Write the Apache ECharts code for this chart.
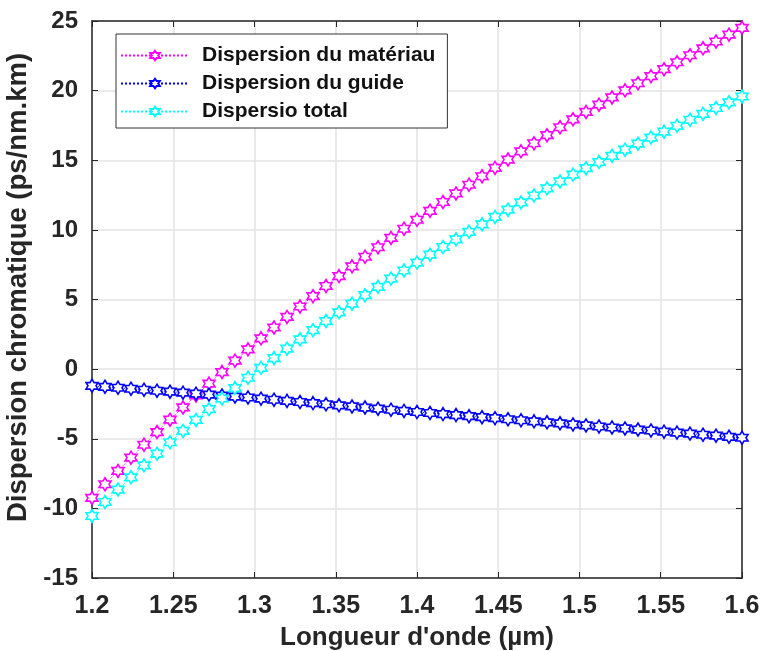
<!DOCTYPE html>
<html>
<head>
<meta charset="utf-8">
<script src="https://cdn.jsdelivr.net/npm/echarts@6/dist/echarts.min.js"></script>
<style>
  html, body { margin: 0; padding: 0; background: #fff; }
  #chart { width: 761px; height: 651px; }
</style>
</head>
<body>
<div id="chart"></div>
<script>
// wavelength samples (µm)
const wavelength = [
  1.200, 1.208, 1.216, 1.224, 1.232, 1.240, 1.248, 1.256, 1.264, 1.272,
  1.280, 1.288, 1.296, 1.304, 1.312, 1.320, 1.328, 1.336, 1.344, 1.352,
  1.360, 1.368, 1.376, 1.384, 1.392, 1.400, 1.408, 1.416, 1.424, 1.432,
  1.440, 1.448, 1.456, 1.464, 1.472, 1.480, 1.488, 1.496, 1.504, 1.512,
  1.520, 1.528, 1.536, 1.544, 1.552, 1.560, 1.568, 1.576, 1.584, 1.592,
  1.600
]

// material dispersion (ps/nm.km)
const dispMateriau = [
  -9.25, -8.27, -7.31, -6.36, -5.43, -4.52, -3.63, -2.75, -1.89, -1.04,
  -0.21, 0.61, 1.42, 2.21, 2.99, 3.75, 4.50, 5.24, 5.97, 6.68,
  7.38, 8.07, 8.75, 9.42, 10.08, 10.73, 11.37, 12.00, 12.62, 13.24,
  13.85, 14.45, 15.05, 15.64, 16.22, 16.80, 17.37, 17.94, 18.47, 18.99,
  19.51, 20.02, 20.53, 21.04, 21.54, 22.04, 22.54, 23.04, 23.53, 24.02,
  24.51
]

// waveguide dispersion
const dispGuide = [
  -1.20, -1.27, -1.34, -1.41, -1.48, -1.55, -1.62, -1.69, -1.76, -1.83,
  -1.90, -1.97, -2.04, -2.12, -2.20, -2.28, -2.36, -2.44, -2.52, -2.60,
  -2.68, -2.76, -2.84, -2.92, -3.00, -3.08, -3.15, -3.23, -3.30, -3.38,
  -3.45, -3.52, -3.60, -3.67, -3.75, -3.82, -3.89, -3.97, -4.04, -4.12,
  -4.19, -4.26, -4.34, -4.41, -4.49, -4.56, -4.63, -4.71, -4.78, -4.86,
  -4.93
]

// total dispersion
const dispTotal = [
  -10.55, -9.54, -8.65, -7.77, -6.91, -6.07, -5.25, -4.44, -3.65, -2.87,
  -2.11, -1.36, -0.62, 0.09, 0.79, 1.47, 2.14, 2.80, 3.45, 4.08,
  4.70, 5.31, 5.91, 6.50, 7.08, 7.65, 8.22, 8.77, 9.32, 9.86,
  10.40, 10.93, 11.45, 11.97, 12.47, 12.98, 13.48, 13.97, 14.43, 14.87,
  15.32, 15.76, 16.19, 16.63, 17.05, 17.48, 17.91, 18.33, 18.75, 19.16,
  19.58
]

const seriesNames = ['Dispersion du matériau', 'Dispersion du guide', 'Dispersio total']
const seriesColors = ['#ff00ff', '#0000ff', '#00ffff']

// six-pointed star outline (matlab 'h' marker)
const hexagram = 'path://M50 0 L64.43 25 L93.3 25 L78.87 50 L93.3 75 L64.43 75 L50 100 L35.57 75 L6.7 75 L21.13 50 L6.7 25 L35.57 25 Z'

const font = 'Arial, "Liberation Sans", sans-serif'
const narrowFont = '"Liberation Sans Narrow", "Arial Narrow", Arial, sans-serif'

function makeSeries(name, values, color) {
  return {
    name: name,
    type: 'line',
    data: wavelength.map((x, i) => [x, values[i]]),
    symbol: hexagram,
    symbolSize: [12, 13],
    showAllSymbol: true,
    lineStyle: { color: color, width: 1, type: 'dotted' },
    itemStyle: { color: '#ffffff', borderColor: color, borderWidth: 1.6 },
    emphasis: { disabled: true },
    animation: false
  }
}

const boxAxis = {
  axisLine: { show: true, onZero: false, lineStyle: { color: '#262626', width: 1.5 } },
  axisTick: { show: true, inside: true, length: 6, lineStyle: { color: '#262626' } },
  axisLabel: { show: false },
  splitLine: { show: false }
}

const chart = echarts.init(document.getElementById('chart'))

chart.setOption({
  backgroundColor: '#ffffff',
  animation: false,
  grid: { left: 92, right: 19, top: 21, bottom: 73, containLabel: false, outerBoundsMode: 'none' },
  legend: {
    orient: 'vertical',
    left: 116,
    top: 34,
    padding: [11, 12, 6, 4],
    itemWidth: 68,
    itemHeight: 12,
    itemGap: 7,
    backgroundColor: '#ffffff',
    borderColor: '#333333',
    borderWidth: 1,
    textStyle: { fontFamily: font, fontSize: 21, color: '#111', fontWeight: 'bold', padding: [0, 0, 0, 8] },
    data: seriesNames
  },
  xAxis: [
    {
      type: 'value',
      min: 1.2,
      max: 1.6,
      interval: 0.05,
      name: "Longueur d'onde (µm)",
      nameLocation: 'middle',
      nameGap: 47,
      nameTextStyle: { fontFamily: font, fontSize: 26, fontWeight: 'bold', color: '#262626' },
      axisLine: { show: true, onZero: false, lineStyle: { color: '#262626', width: 1.5 } },
      axisTick: { show: true, inside: true, length: 6, lineStyle: { color: '#262626' } },
      axisLabel: {
        fontFamily: narrowFont, fontSize: 25, fontWeight: 'bold', color: '#262626', margin: 16,
        formatter: v => String(+v.toFixed(2))
      },
      splitLine: { show: true, lineStyle: { color: '#e3e3e3', width: 1.5 } }
    },
    Object.assign({ type: 'value', position: 'top', min: 1.2, max: 1.6, interval: 0.05 }, boxAxis)
  ],
  yAxis: [
    {
      type: 'value',
      min: -15,
      max: 25,
      interval: 5,
      name: 'Dispersion chromatique (ps/nm.km)',
      nameLocation: 'middle',
      nameGap: 49,
      nameTextStyle: {
        fontFamily: font, fontSize: 27.5, fontWeight: 'bold', color: '#262626',
        padding: [0, 0, 0, 24]
      },
      axisLine: { show: true, onZero: false, lineStyle: { color: '#262626', width: 1.5 } },
      axisTick: { show: true, inside: true, length: 6, lineStyle: { color: '#262626' } },
      axisLabel: { fontFamily: narrowFont, fontSize: 24, fontWeight: 'bold', color: '#262626', margin: 14 },
      splitLine: { show: true, lineStyle: { color: '#e3e3e3', width: 1.5 } }
    },
    Object.assign({ type: 'value', position: 'right', min: -15, max: 25, interval: 5 }, boxAxis,
      { axisLine: { show: true, onZero: false, lineStyle: { color: '#555555', width: 2 } } })
  ],
  series: seriesNames.map((n, i) =>
    makeSeries(n, [dispMateriau, dispGuide, dispTotal][i], seriesColors[i]))
})
</script>
</body>
</html>
